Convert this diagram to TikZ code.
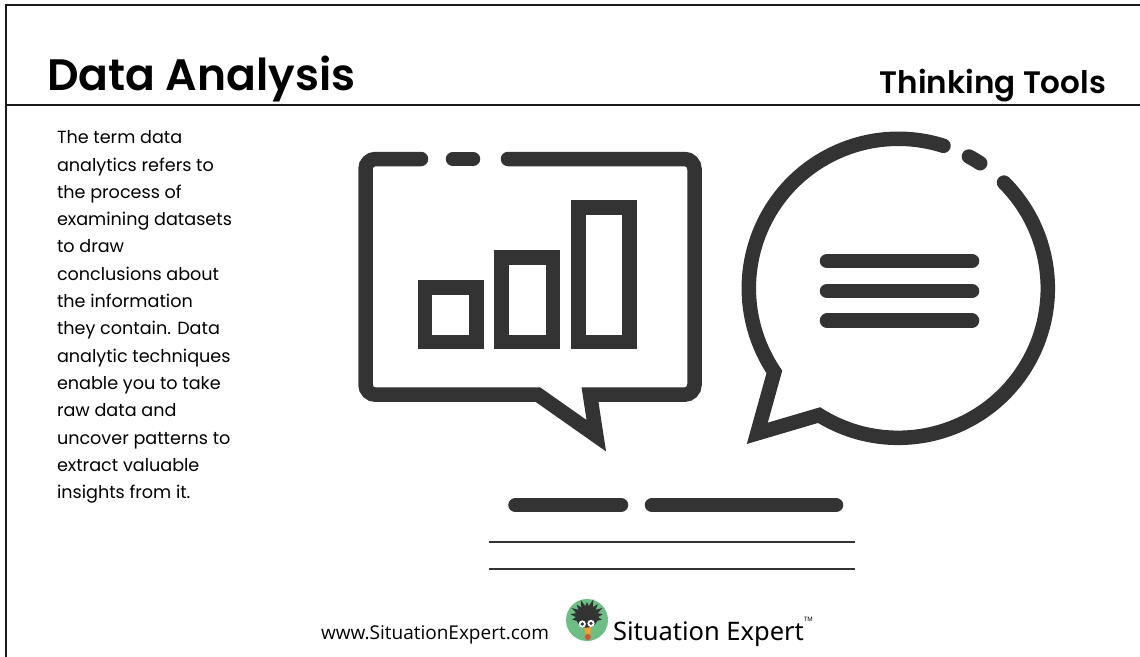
\documentclass[tikz,border=0pt]{standalone}
\usepackage{fontspec}
\usetikzlibrary{calc}
\setmainfont{Poppins}[BoldFont={Poppins SemiBold}]
\newfontfamily\footfont{Open Sans}
\newfontfamily\brandfont{Noto Sans}
\definecolor{ink}{HTML}{333333}
\definecolor{rulec}{HTML}{1A1A1A}
\definecolor{leaf}{HTML}{6DBE85}
\definecolor{beak}{HTML}{F0A030}
\definecolor{berry}{HTML}{E0502A}
\tikzset{
  thick line/.style={draw=ink,line width=14.5pt,line cap=round,line join=round},
  sharp line/.style={draw=ink,line width=14.5pt,line cap=round,line join=miter,miter limit=10},
  bar box/.style={draw=ink,line width=14.5pt,line join=miter},
  thin line/.style={draw=ink,line width=2pt},
  frame line/.style={draw=rulec,line width=2.6pt},
  txt/.style={inner sep=0pt,outer sep=0pt,text=black}
}
\begin{document}
\begin{tikzpicture}[x=1pt,y=-1pt]
\useasboundingbox (0,0) rectangle (1140,656);
\fill[white] (0,0) rectangle (1140,656);
% frame
\draw[frame line] (6,660) -- (6,5) -- (1144,5);
\draw[frame line] (6,105) -- (1144,105);
% headings
\node[txt,anchor=base west,font=\fontsize{44}{44}\selectfont\bfseries] (title) at (47,90) {Data Analysis};
\node[txt,anchor=base east,font=\fontsize{31}{31}\selectfont\bfseries] (sub) at (1106,93) {Thinking Tools};
% paragraph
\node[txt,anchor=north west,align=left,font=\fontsize{17.6}{27.3}\selectfont] (para) at (57,130.7) {The term data\\analytics refers to\\the process of\\examining datasets\\to draw\\conclusions about\\the information\\they contain. Data\\analytic techniques\\enable you to take\\raw data and\\uncover patterns to\\extract valuable\\insights from it.};
% chart bubble
\draw[sharp line] (421,159) -- (375.5,159) arc[start angle=-90,end angle=-180,radius=10] -- (365.5,384.7) arc[start angle=180,end angle=90,radius=10] -- (538,394.7) -- (596.3,435.7) -- (590,394.7) -- (684.5,394.7) arc[start angle=90,end angle=0,radius=10] -- (694.5,169) arc[start angle=0,end angle=-90,radius=10] -- (508,159);
\draw[thick line] (453,159) -- (473,159);
\draw[bar box] (425,287.3) rectangle (476.3,342);
\draw[bar box] (501.3,257.3) rectangle (553,342);
\draw[bar box] (578.3,207.3) rectangle (629.7,342);
% round bubble
\coordinate (cc) at (898.3,288.3);
\coordinate (tip) at (757.3,433.3);
\draw[sharp line] ($(cc)+(-72.4:149.5)$) arc[start angle=-72.4,end angle=-214,radius=149.5] -- (tip) -- ($(cc)+(-238:149.5)$) arc[start angle=-238,end angle=-405,radius=149.5];
\draw[thick line] ($(cc)+(-61.8:149.5)$) arc[start angle=-61.8,end angle=-56.8,radius=149.5];
\draw[thick line] (827,261) -- (972,261);
\draw[thick line] (827,291) -- (972,291);
\draw[thick line] (827,320.7) -- (972,320.7);
% lower bars and rules
\draw[thick line] (515.5,505) -- (621,505);
\draw[thick line] (652,505) -- (836,505);
\draw[thin line] (489,542) -- (855,542);
\draw[thin line] (489,569) -- (855,569);
% footer
\node[txt,anchor=base west,font=\footfont\fontsize{19}{19}\selectfont] (web) at (321,639) {www.SituationExpert.com};
\node[txt,anchor=base west,font=\brandfont\fontsize{25.5}{25.5}\selectfont] (brand) at (613,640) {Situation Expert};
\node[txt,anchor=base west,font=\brandfont\fontsize{6}{6}\selectfont] (tm) at (804,621) {TM};
% logo
\coordinate (lc) at (587,620);
\coordinate (hb) at (587,617);
\fill[leaf] (lc) circle[radius=21];
\fill[ink] (hb) circle[radius=11];
\foreach \a/\l in {-170/17,-150/18,-130/16,-110/18,-90/15,-70/19,-50/17,-30/18,-10/16,10/15,170/15}{
  \fill[ink] ($(hb)+(\a-14:10)$) -- ($(hb)+(\a:\l)$) -- ($(hb)+(\a+14:10)$) -- cycle;
}
\fill[white] (582.3,624) circle[radius=3.6];
\fill[white] (591,623.4) circle[radius=3.6];
\fill[ink] (582.3,624) circle[radius=1.8];
\fill[ink] (591,623.4) circle[radius=1.8];
\fill[beak] (584,628) -- (591,627) -- (590.5,634) -- (586,635) -- cycle;
\fill[berry] (587.8,637) circle[radius=3];
\end{tikzpicture}
\end{document}
